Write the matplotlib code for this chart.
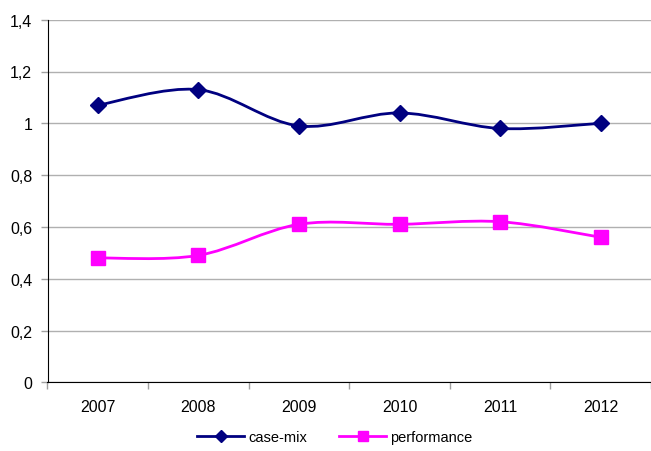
import matplotlib
matplotlib.use('Agg')
import matplotlib.pyplot as plt
from matplotlib.path import Path
from matplotlib.patches import PathPatch
from matplotlib.lines import Line2D
import numpy as np

# --- Datos ---
anios = ['2007', '2008', '2009', '2010', '2011', '2012']
case_mix = [1.07, 1.13, 0.99, 1.04, 0.98, 1.00]
performance = [0.48, 0.49, 0.61, 0.61, 0.62, 0.56]
y_ticks = [0, 0.2, 0.4, 0.6, 0.8, 1.0, 1.2, 1.4]
y_labels = ['0', '0,2', '0,4', '0,6', '0,8', '1', '1,2', '1,4']

AZUL = '#000080'
MAGENTA = '#FF00FF'

plt.rcParams['font.family'] = ['Liberation Sans', 'DejaVu Sans']


def curva_suave(xs, ys):
    # Bezier tipo Excel (Catmull-Rom) entre los puntos
    pts = np.column_stack([xs, ys]).astype(float)
    n = len(pts)
    verts = [pts[0]]
    codes = [Path.MOVETO]
    for i in range(n - 1):
        p0 = pts[max(i - 1, 0)]
        p1 = pts[i]
        p2 = pts[i + 1]
        p3 = pts[min(i + 2, n - 1)]
        c1 = p1 + (p2 - p0) / 6
        c2 = p2 - (p3 - p1) / 6
        verts += [c1, c2, p2]
        codes += [Path.CURVE4] * 3
    return Path(verts, codes)


fig = plt.figure(figsize=(6.51, 4.52), dpi=100)
ax = fig.add_axes([47.5 / 651, (452 - 383.3) / 452, (651 - 47.5) / 651, (383.3 - 20.7) / 452])

x = np.arange(len(anios))
for serie, color, marker, ms in [(case_mix, AZUL, 'D', 8), (performance, MAGENTA, 's', 9.5)]:
    ax.add_patch(PathPatch(curva_suave(x, serie), facecolor='none', edgecolor=color,
                           lw=2.0, zorder=3))
    ax.plot(x, serie, linestyle='none', marker=marker, color=color, ms=ms, zorder=4)

ax.set_xlim(-0.5, len(anios) - 0.5)
ax.set_ylim(0, 1.4)
ax.set_yticks(y_ticks)
ax.set_yticklabels(y_labels)
ax.set_xticks(x)
ax.set_xticklabels(anios)
ax.set_xticks(np.arange(len(anios) + 1) - 0.5, minor=True)
ax.tick_params(axis='x', which='major', length=0, pad=12, labelsize=11.5)
ax.tick_params(axis='x', which='minor', length=5, color='#a0a0a0', width=1)
ax.tick_params(axis='y', length=5, color='#a0a0a0', width=1, pad=6, labelsize=11.5)
ax.yaxis.grid(True, color='#b0b0b0', lw=1)
ax.set_axisbelow(True)
for lado in ['top', 'right']:
    ax.spines[lado].set_visible(False)
ax.spines['left'].set_color('black')
ax.spines['bottom'].set_color('black')

handles = [Line2D([], [], color=AZUL, lw=2, marker='D', ms=6),
           Line2D([], [], color=MAGENTA, lw=2, marker='s', ms=7.5)]
fig.legend(handles, ['case-mix', 'performance'], loc='center', ncol=2, frameon=False,
           bbox_to_anchor=(335 / 651, 1 - 438 / 452), fontsize=10.5, handlelength=3.2,
           handletextpad=0.3, columnspacing=2.2)

plt.savefig('out.png', dpi=100)
